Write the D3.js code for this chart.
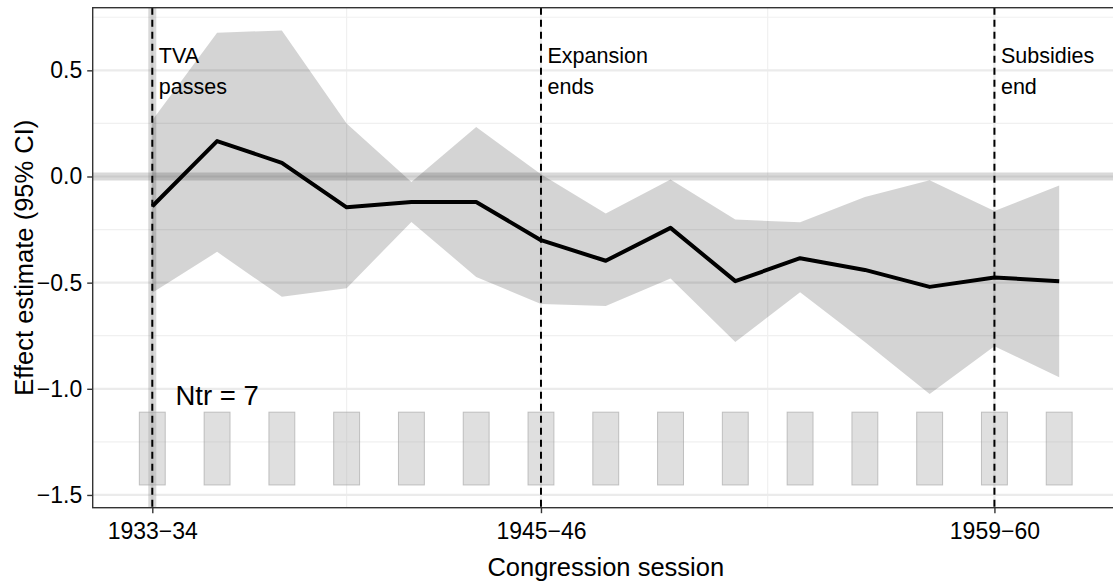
<!DOCTYPE html>
<html>
<head>
<meta charset="utf-8">
<script src="https://cdn.jsdelivr.net/npm/d3@7"></script>
<style>
  body { margin: 0; background: #fff; }
  text { font-family: "Liberation Sans", Arial, Helvetica, sans-serif; }
</style>
</head>
<body>
<svg id="chart" width="1113" height="585"></svg>
<script>
// congress sessions (start year of each session)
var years = [1933,1935,1937,1939,1941,1943,1945,1947,1949,1951,1953,1955,1957,1959,1961]
var estimate = [-0.14, 0.167, 0.064, -0.145, -0.12, -0.12, -0.30, -0.397, -0.242, -0.493, -0.385, -0.44, -0.52, -0.476, -0.493]
var upper = [0.265, 0.677, 0.688, 0.25, -0.026, 0.233, 0.01, -0.174, -0.014, -0.203, -0.215, -0.096, -0.018, -0.162, -0.043]
var lower = [-0.548, -0.355, -0.567, -0.526, -0.214, -0.473, -0.60, -0.61, -0.48, -0.779, -0.545, -0.78, -1.025, -0.799, -0.946]

// treated-unit boxes along the bottom
var boxBottom = -1.453
var boxTop = -1.11
var boxHalf = 0.4

var eventYears = [1933, 1945, 1959]
var eventLabels = [["TVA","passes"], ["Expansion","ends"], ["Subsidies","end"]]

var xTicks = [1933, 1945, 1959]
var xTickLabels = ["1933−34", "1945−46", "1959−60"]
var xMinor = [1939, 1952]
var yTicks = [-1.5, -1.0, -0.5, 0.0, 0.5]
var yMinor = [-1.25, -0.75, -0.25, 0.25, 0.75]

var ntrLabel = "Ntr = 7"

var svg = d3.select("#chart")
var margin = {top: 7.7, left: 92.7}
var panelRight = 1118.8, panelBottom = 507.7

// ggplot style 5% expansion
var xlo = d3.min(years) - boxHalf, xhi = d3.max(years) + boxHalf
var ylo = boxBottom, yhi = d3.max(upper)
var xs = d3.scaleLinear()
           .domain([xlo - 0.05*(xhi-xlo), xhi + 0.05*(xhi-xlo)])
           .range([margin.left, panelRight])
var ys = d3.scaleLinear()
           .domain([ylo - 0.05*(yhi-ylo), yhi + 0.05*(yhi-ylo)])
           .range([panelBottom, margin.top])

svg.append("rect").attr("width", 1113).attr("height", 585).attr("fill", "white")

var clip = svg.append("clipPath").attr("id", "panelClip")
clip.append("rect").attr("x", margin.left).attr("y", margin.top)
    .attr("width", panelRight - margin.left).attr("height", panelBottom - margin.top)

var panel = svg.append("g").attr("clip-path", "url(#panelClip)")

// grid
panel.selectAll(".yminor").data(yMinor).enter().append("line")
     .attr("x1", margin.left).attr("x2", panelRight)
     .attr("y1", function(d){ return ys(d) }).attr("y2", function(d){ return ys(d) })
     .attr("stroke", "#f0f0f0").attr("stroke-width", 1.2)
panel.selectAll(".xminor").data(xMinor).enter().append("line")
     .attr("y1", margin.top).attr("y2", panelBottom)
     .attr("x1", function(d){ return xs(d) }).attr("x2", function(d){ return xs(d) })
     .attr("stroke", "#f0f0f0").attr("stroke-width", 1.2)
panel.selectAll(".ymajor").data(yTicks).enter().append("line")
     .attr("x1", margin.left).attr("x2", panelRight)
     .attr("y1", function(d){ return ys(d) }).attr("y2", function(d){ return ys(d) })
     .attr("stroke", "#ebebeb").attr("stroke-width", 2.2)
panel.selectAll(".xmajor").data(xTicks).enter().append("line")
     .attr("y1", margin.top).attr("y2", panelBottom)
     .attr("x1", function(d){ return xs(d) }).attr("x2", function(d){ return xs(d) })
     .attr("stroke", "#ebebeb").attr("stroke-width", 2.2)

// zero band and first-session band
panel.append("line")
     .attr("x1", margin.left).attr("x2", panelRight)
     .attr("y1", ys(0)).attr("y2", ys(0))
     .attr("stroke", "#808080").attr("stroke-opacity", 0.3).attr("stroke-width", 8)
panel.append("line")
     .attr("y1", margin.top).attr("y2", panelBottom)
     .attr("x1", xs(years[0])).attr("x2", xs(years[0]))
     .attr("stroke", "#808080").attr("stroke-opacity", 0.3).attr("stroke-width", 8)

// confidence ribbon
var area = d3.area()
             .x(function(d, i){ return xs(years[i]) })
             .y0(function(d, i){ return ys(lower[i]) })
             .y1(function(d, i){ return ys(upper[i]) })
panel.append("path").datum(estimate)
     .attr("d", area)
     .attr("fill", "black").attr("fill-opacity", 0.17)

// boxes
panel.selectAll(".box").data(years).enter().append("rect")
     .attr("x", function(d){ return xs(d - boxHalf) })
     .attr("width", function(d){ return xs(d + boxHalf) - xs(d - boxHalf) })
     .attr("y", ys(boxTop))
     .attr("height", ys(boxBottom) - ys(boxTop))
     .attr("fill", "#b0b0b0").attr("fill-opacity", 0.4)
     .attr("stroke", "#a0a0a0").attr("stroke-opacity", 0.6).attr("stroke-width", 1)

// estimate line
var line = d3.line()
             .x(function(d, i){ return xs(years[i]) })
             .y(function(d){ return ys(d) })
panel.append("path").datum(estimate)
     .attr("d", line)
     .attr("fill", "none").attr("stroke", "black").attr("stroke-width", 4)
     .attr("stroke-linejoin", "round")

// event lines
panel.selectAll(".event").data(eventYears).enter().append("line")
     .attr("y1", margin.top).attr("y2", panelBottom)
     .attr("x1", function(d){ return xs(d) }).attr("x2", function(d){ return xs(d) })
     .attr("stroke", "black").attr("stroke-width", 2).attr("stroke-dasharray", "7,5")

var labels = svg.append("g")
eventYears.forEach(function(d, i){
  eventLabels[i].forEach(function(t, j){
    labels.append("text")
          .attr("x", xs(d) + 6.5)
          .attr("y", 62.5 + j*31)
          .attr("font-size", "21.5px")
          .attr("fill", "black")
          .text(t)
  })
})

svg.append("text")
   .attr("x", xs(years[1])).attr("y", 405)
   .attr("text-anchor", "middle")
   .attr("font-size", "27.5px")
   .attr("fill", "black")
   .text(ntrLabel)

// panel border
svg.append("rect")
   .attr("x", margin.left).attr("y", margin.top)
   .attr("width", panelRight - margin.left).attr("height", panelBottom - margin.top)
   .attr("fill", "none").attr("stroke", "#333333").attr("stroke-width", 1.4)

// axes
var xAxis = d3.axisBottom(xs).tickValues(xTicks)
              .tickFormat(function(d, i){ return xTickLabels[i] })
              .tickSize(5.5).tickPadding(9)
var gx = svg.append("g").attr("transform", "translate(0," + panelBottom + ")").call(xAxis)
gx.select(".domain").remove()
gx.selectAll("line").attr("stroke", "#333333").attr("stroke-width", 1.4)
gx.selectAll("text").attr("font-size", "23px").attr("fill", "black")
  .attr("font-family", "'Liberation Sans', Arial, sans-serif")

var yAxis = d3.axisLeft(ys).tickValues(yTicks).tickFormat(d3.format(".1f"))
              .tickSize(5.5).tickPadding(5)
var gy = svg.append("g").attr("transform", "translate(" + margin.left + ",0)").call(yAxis)
gy.select(".domain").remove()
gy.selectAll("line").attr("stroke", "#333333").attr("stroke-width", 1.4)
gy.selectAll("text").attr("font-size", "23px").attr("fill", "black")
  .attr("font-family", "'Liberation Sans', Arial, sans-serif")

svg.append("text")
   .attr("x", (margin.left + panelRight)/2).attr("y", 576)
   .attr("text-anchor", "middle").attr("font-size", "25.5px").attr("fill", "black")
   .text("Congression session")

svg.append("text")
   .attr("transform", "translate(33," + (margin.top + panelBottom)/2 + ") rotate(-90)")
   .attr("text-anchor", "middle").attr("font-size", "25.5px").attr("fill", "black")
   .text("Effect estimate (95% CI)")
</script>
</body>
</html>
